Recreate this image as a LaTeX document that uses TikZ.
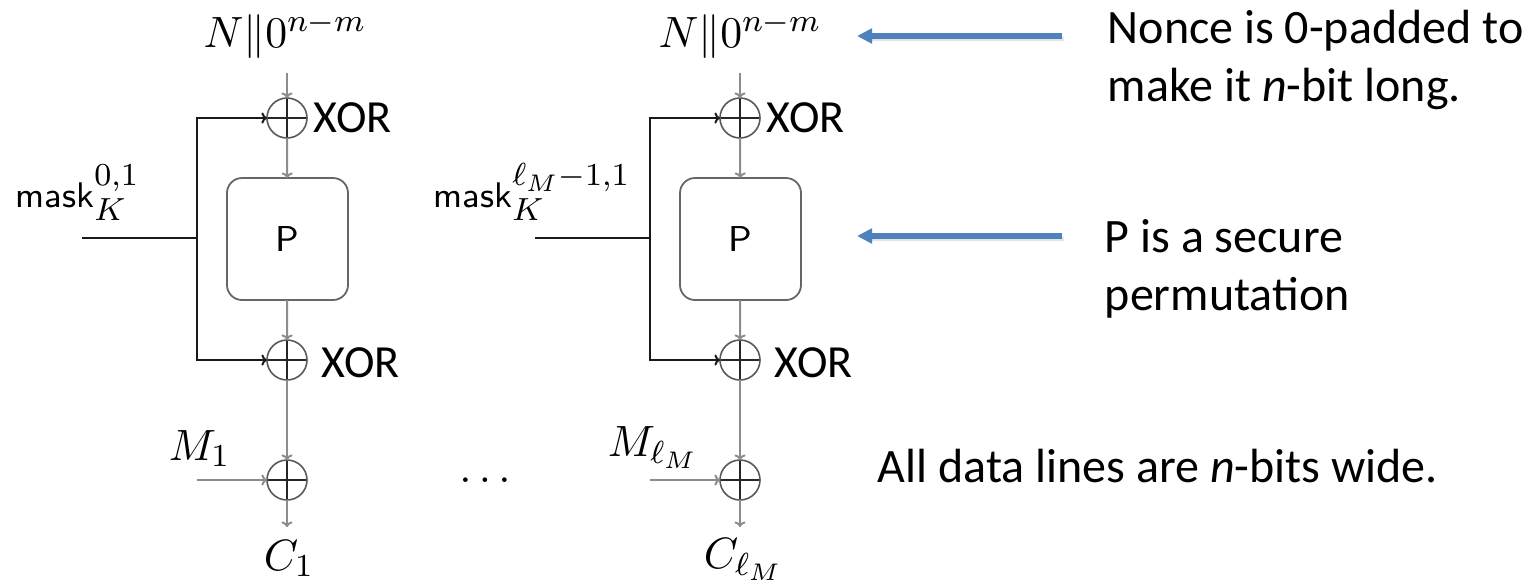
\documentclass[tikz,border=0pt]{standalone}
\usepackage{fontspec}
\newfontfamily\calfont{Carlito}
\usetikzlibrary{arrows.meta}
\definecolor{annblue}{RGB}{79,129,189}
\newcommand{\maskword}{\mbox{\fontsize{8.9}{10}\selectfont\sffamily mask}}
\begin{document}
\begin{tikzpicture}[x=0.25pt,y=-0.25pt,
  dataline/.style={draw=black!45, line width=0.5pt},
  maskline/.style={draw=black!90, line width=0.5pt},
  arr/.style={-{To[length=1.4pt,width=2.8pt]}},
  xorc/.style={circle, draw=black!65, line width=0.4pt, minimum size=10pt, inner sep=0pt, outer sep=0pt,
    path picture={\draw[black!85,line width=0.4pt] (path picture bounding box.north) -- (path picture bounding box.south) (path picture bounding box.west) -- (path picture bounding box.east);}},
  pbox/.style={draw=black!60, rounded corners=3.75pt, line width=0.45pt, minimum width=30.25pt, minimum height=30.5pt, inner sep=0pt, outer sep=0pt},
  mathlab/.style={inner sep=0pt, font=\fontsize{10.95}{13}\selectfont},
  masklab/.style={inner sep=0pt, anchor=base west, font=\fontsize{10.95}{13}\selectfont},
  xorlab/.style={inner sep=0pt, anchor=base west, font=\calfont\fontsize{11.5}{13}\selectfont},
  ann/.style={inner sep=0pt, font=\calfont\fontsize{12}{14}\selectfont, anchor=base west},
  bluearrow/.style={draw=annblue, line width=1.4pt, -{Triangle[length=3.75pt,width=3.6pt]}},
  shadowline/.style={draw=black!30, line width=1.2pt, opacity=0.35},
]
\useasboundingbox (0,0) rectangle (1524,582);

\foreach \i/\dx in {1/0,2/453}{
  \node[xorc] (xa\i) at (287+\dx,118) {};
  \node[pbox] (p\i) at (287.5+\dx,239) {\fontsize{9}{11}\selectfont\sffamily P};
  \node[xorc] (xb\i) at (287+\dx,360) {};
  \node[xorc] (xc\i) at (287+\dx,480) {};
  \coordinate (nin\i) at (287+\dx,73);
  \coordinate (cout\i) at (287+\dx,527);
  \coordinate (ms\i) at (82+\dx,238);
  \coordinate (mj\i) at (197+\dx,238);
  \coordinate (min\i) at (197+\dx,480);
  \draw[dataline,arr] (nin\i) -- (xa\i);
  \draw[dataline,arr] (xa\i) -- (p\i);
  \draw[dataline,arr] (p\i) -- (xb\i);
  \draw[dataline,arr] (xb\i) -- (xc\i);
  \draw[dataline,arr] (xc\i) -- (cout\i);
  \draw[maskline] (ms\i) -- (mj\i);
  \draw[maskline,arr] (mj\i) |- (xa\i);
  \draw[maskline,arr] (mj\i) |- (xb\i);
  \draw[dataline,arr] (min\i) -- (xc\i);
  \node[xorlab] (xorA\i) at (313+\dx,132) {XOR};
  \node[xorlab] (xorB\i) at (321+\dx,377) {XOR};
}

% column labels
\node[mathlab, anchor=base] (n1) at (285,47) {$N\|0^{n-m}$};
\node[mathlab, anchor=base] (n2) at (740,47) {$N\|0^{n-m}$};
\node[masklab] (mk1) at (15,207) {$\maskword_K^{0,1}$};
\node[masklab] (mk2) at (433,207) {$\maskword_K^{\ell_M-1,1}$};
\node[masklab] (m1) at (168,460) {$M_1$};
\node[masklab] (m2) at (607,456) {$M_{\ell_M}$};
\node[masklab] (c1) at (263,570) {$C_1$};
\node[masklab] (c2) at (703,568) {$C_{\ell_M}$};
\node[mathlab, anchor=base] (dots) at (485,482) {$\ldots$};

% annotations
\coordinate (a1s) at (1062,36);
\coordinate (a1e) at (857,36);
\coordinate (a2s) at (1062,236);
\coordinate (a2e) at (857,236);
\coordinate (a1ss) at (1064,39);
\coordinate (a1es) at (866,39);
\coordinate (a2ss) at (1064,239);
\coordinate (a2es) at (866,239);
\draw[shadowline] (a1ss) -- (a1es);
\draw[shadowline] (a2ss) -- (a2es);
\draw[bluearrow] (a1s) -- (a1e);
\draw[bluearrow] (a2s) -- (a2e);

\node[ann] (t1) at (1107,43) {Nonce is 0-padded to};
\node[ann] (t2) at (1107,101) {make it {\itshape n}-bit long.};
\node[ann] (t3) at (1104,252) {P is a secure};
\node[ann] (t4) at (1104,310) {permutation};
\node[ann] (t5) at (877,482) {All data lines are {\itshape n}-bits wide.};
\end{tikzpicture}
\end{document}
